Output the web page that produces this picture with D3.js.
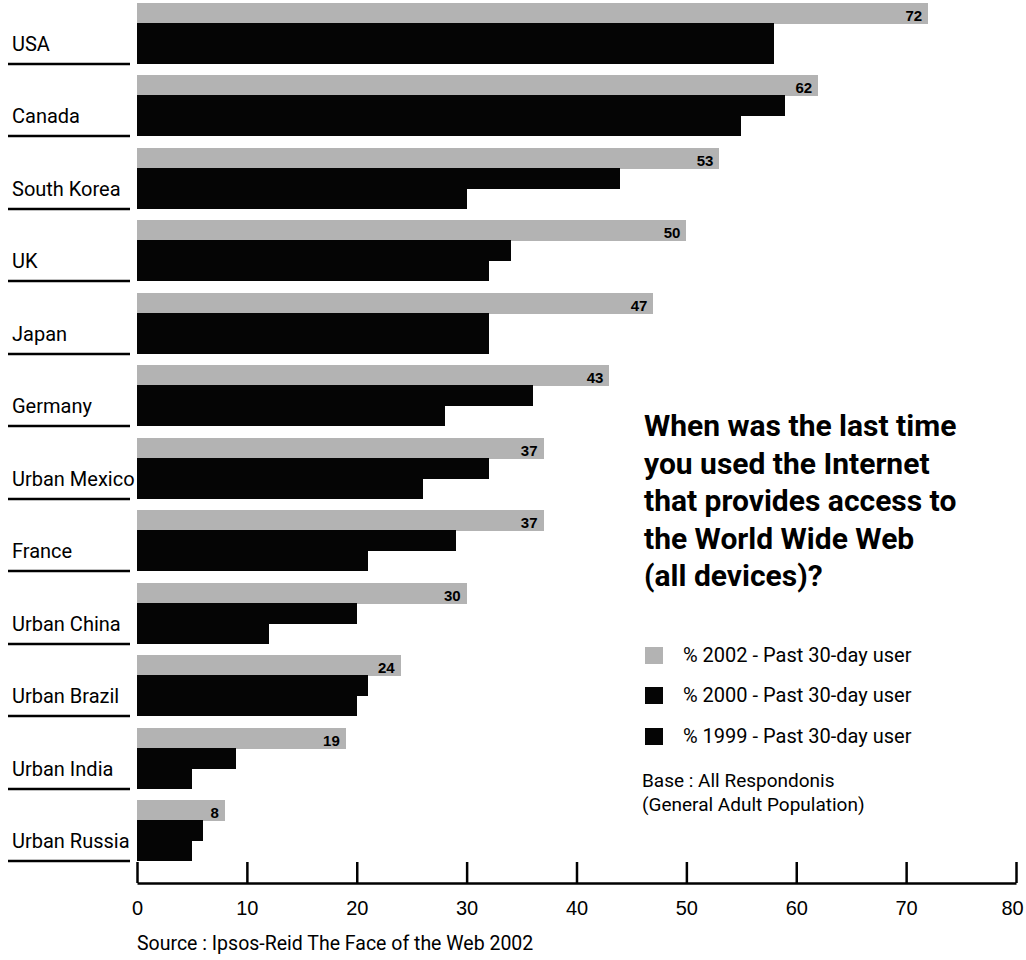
<!DOCTYPE html>
<html>
<head>
<meta charset="utf-8">
<script src="https://cdn.jsdelivr.net/npm/d3@7"></script>
<style>
  html, body { margin: 0; padding: 0; background: #ffffff; }
  svg { display: block; }
  text { fill: #000; }
</style>
</head>
<body>
<svg id="chart" width="1026" height="960"></svg>
<script>
// ---- Data ----
const countries = ["USA", "Canada", "South Korea", "UK", "Japan", "Germany",
  "Urban Mexico", "France", "Urban China", "Urban Brazil", "Urban India", "Urban Russia"];
const pct2002 = [72, 62, 53, 50, 47, 43, 37, 37, 30, 24, 19, 8];
const pct2000 = [58, 59, 44, 34, 32, 36, 32, 29, 20, 21, 9, 6];
const pct1999 = [58, 55, 30, 32, 32, 28, 26, 21, 12, 20, 5, 5];
const seriesKeys = ["2002", "2000", "1999"];
const legendLabels = ["% 2002 - Past 30-day user", "% 2000 - Past 30-day user", "% 1999 - Past 30-day user"];
const titleLines = ["When was the last time", "you used the Internet", "that provides access to", "the World Wide Web", "(all devices)?"];
const baseLines = ["Base : All Respondonis", "(General Adult Population)"];
const sourceText = "Source : Ipsos-Reid The Face of the Web 2002";
const xTicks = [0, 10, 20, 30, 40, 50, 60, 70, 80];

const seriesValues = { "2002": pct2002, "2000": pct2000, "1999": pct1999 };
const colors = { "2002": "#b3b3b3", "2000": "#050505", "1999": "#050505" };

const svg = d3.select("#chart");
const FONT = "'Liberation Sans', Arial, sans-serif";
const NARROW = "'Liberation Sans Narrow', 'Liberation Sans', Arial, sans-serif";
const ROBOTO = "Roboto, 'Liberation Sans', Arial, sans-serif";

const x = d3.scaleLinear().domain([0, 80]).range([137, 1016]);
const y = d3.scaleBand().domain(countries).range([3, 860]).paddingInner(0.1718).paddingOuter(0);
const ySub = d3.scaleBand().domain(seriesKeys).range([0, y.bandwidth()]);

// ---- Bars ----
const groups = svg.append("g").selectAll("g.grp")
  .data(countries).join("g")
  .attr("class", "grp")
  .attr("transform", d => `translate(0,${Math.round(y(d))})`);

groups.each(function(c, i) {
  const g = d3.select(this);
  seriesKeys.forEach(k => {
    g.append("rect")
      .attr("x", x(0))
      .attr("y", ySub(k))
      .attr("width", x(seriesValues[k][i]) - x(0))
      .attr("height", ySub.bandwidth() + 0.5)
      .attr("fill", colors[k])
      .attr("shape-rendering", "crispEdges");
  });
  // value label on 2002 bar
  g.append("text")
    .attr("x", x(pct2002[i]) - 6)
    .attr("y", ySub("2002") + 18)
    .attr("text-anchor", "end")
    .attr("font-family", FONT)
    .attr("font-weight", "bold")
    .attr("font-size", 15)
    .text(pct2002[i]);
  // category label
  g.append("text")
    .attr("x", 12)
    .attr("y", 48)
    .attr("font-family", ROBOTO)
    .attr("font-size", 20)
    .text(c);
  // underline
  g.append("line")
    .attr("x1", 8).attr("x2", 130)
    .attr("y1", 61).attr("y2", 61)
    .attr("stroke", "#000").attr("stroke-width", 2.5);
});

// ---- X axis ----
const axis = svg.append("g")
  .attr("transform", "translate(0,883)")
  .call(d3.axisBottom(x).tickValues(xTicks).tickSizeInner(-21).tickSizeOuter(0).tickPadding(18));
axis.select(".domain").attr("stroke", "#000").attr("stroke-width", 2.5);
axis.selectAll(".tick line").attr("stroke", "#000").attr("stroke-width", 2.5);
axis.selectAll(".tick text")
  .attr("font-family", NARROW)
  .attr("font-size", 20)
  .attr("fill", "#000")
  .attr("dx", d => d === 80 ? -4 : 0);

// ---- Title ----
const title = svg.append("text")
  .attr("font-family", ROBOTO)
  .attr("font-weight", "bold")
  .attr("font-size", 30);
titleLines.forEach((t, i) => {
  title.append("tspan").attr("x", 644).attr("y", 436 + i * 37.5).text(t);
});

// ---- Legend ----
const legendY = [647, 687, 728];
seriesKeys.forEach((k, i) => {
  svg.append("rect")
    .attr("x", 645).attr("y", legendY[i])
    .attr("width", 18).attr("height", 17)
    .attr("fill", colors[k]);
  svg.append("text")
    .attr("x", 683).attr("y", legendY[i] + 15)
    .attr("font-family", ROBOTO)
    .attr("font-size", 20)
    .text(legendLabels[i]);
});

baseLines.forEach((t, i) => {
  svg.append("text")
    .attr("x", 642).attr("y", 787 + i * 24)
    .attr("font-family", ROBOTO)
    .attr("font-size", 19)
    .text(t);
});

// ---- Source ----
svg.append("text")
  .attr("x", 137).attr("y", 950)
  .attr("font-family", ROBOTO)
  .attr("font-size", 19.5)
  .text(sourceText);
</script>
</body>
</html>
